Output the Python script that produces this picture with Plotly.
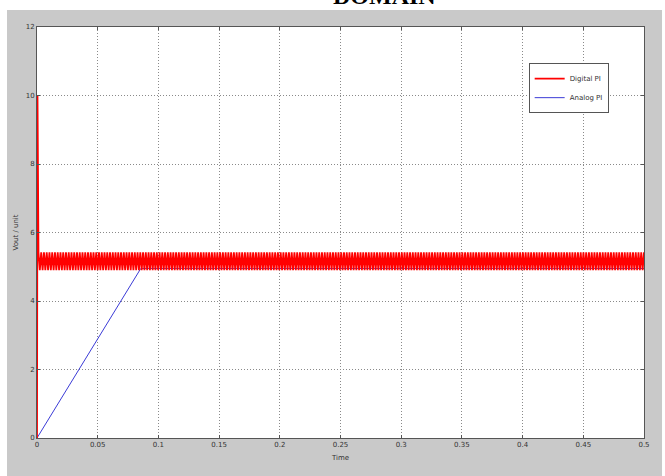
import numpy as np
import plotly.graph_objects as go

# ---- data ----
x_ticks = [0, 0.05, 0.1, 0.15, 0.2, 0.25, 0.3, 0.35, 0.4, 0.45, 0.5]
x_tick_labels = ["0", "0.05", "0.1", "0.15", "0.2", "0.25", "0.3", "0.35", "0.4", "0.45", "0.5"]
y_ticks = [0, 2, 4, 6, 8, 10, 12]
y_tick_labels = ["0", "2", "4", "6", "8", "10", "12"]

# Analog PI: ramp from 0 up to ~4.95, then flat
analog_t = [0.0, 0.0855, 0.5]
analog_v = [0.0, 4.95, 4.95]

# Digital PI: initial spike to 10, then fast switching between two levels
digital_start_t = [0.0, 0.0004, 0.0012]
digital_start_v = [0.0, 10.0, 5.42]
digital_cycle_levels = [4.9, 5.42]   # trough / peak of the switching band
digital_cycles = 220                  # visible switching cycles over 0.5 s

n = digital_cycles * len(digital_cycle_levels)
osc_t = np.linspace(0.0012, 0.5, n + 1)[1:]
osc_v = np.tile(digital_cycle_levels, digital_cycles)
digital_t = list(digital_start_t) + list(osc_t)
digital_v = list(digital_start_v) + list(osc_v)

fig = go.Figure()
fig.add_trace(go.Scatter(x=analog_t, y=analog_v, mode="lines", name="Analog PI",
                         line=dict(color="#3b3bd6", width=1), legendrank=2))
fig.add_trace(go.Scatter(x=digital_t, y=digital_v, mode="lines", name="Digital PI",
                         line=dict(color="#ff0000", width=1.8), legendrank=1))

# white page strips outside the gray MATLAB window
for (x0, x1, y0, y1) in [(-0.2, 1.2, 1.0414, 1.2),     # top strip
                         (-0.2, -0.0494, -0.2, 1.2),   # left strip
                         (1.0297, 1.2, -0.2, 1.2)]:    # right strip
    fig.add_shape(type="rect", xref="paper", yref="paper",
                  x0=x0, x1=x1, y0=y0, y1=y1,
                  fillcolor="white", line=dict(width=0), layer="below")

fig.add_annotation(text="<b>DOMAIN</b>", xref="paper", yref="paper",
                   x=0.573, y=1.039, xanchor="center", yanchor="bottom",
                   showarrow=False,
                   font=dict(family="Liberation Serif", size=24, color="black"))

axis_common = dict(showline=True, linecolor="#555555", linewidth=1, mirror="ticks",
                   ticks="inside", ticklen=3, tickcolor="#555555",
                   showgrid=True, gridcolor="#8a8a8a", griddash="1px,2px", gridwidth=1,
                   zeroline=False,
                   tickfont=dict(family="DejaVu Sans", size=7, color="#333333"))

fig.update_xaxes(range=[0, 0.5], tickvals=x_ticks, ticktext=x_tick_labels,
                 title=dict(text="Time", font=dict(family="DejaVu Sans", size=7, color="#333333"),
                            standoff=6),
                 **axis_common)
fig.update_yaxes(range=[0, 12], tickvals=y_ticks, ticktext=y_tick_labels,
                 title=dict(text="Vout / unit", font=dict(family="DejaVu Sans", size=7, color="#333333"),
                            standoff=6),
                 **axis_common)

fig.update_layout(
    width=665, height=476,
    margin=dict(l=37, r=21, t=27, b=38),
    paper_bgcolor="#c9c9c9", plot_bgcolor="white",
    showlegend=True,
    legend=dict(x=0.81, y=0.912, xanchor="left", yanchor="top",
                bgcolor="white", bordercolor="#555555", borderwidth=1,
                font=dict(family="DejaVu Sans", size=7, color="#333333"),
                itemwidth=30, tracegroupgap=0),
)

fig.write_html("out.html", config={"displayModeBar": False},
               post_script="document.body.style.margin='0px';")
